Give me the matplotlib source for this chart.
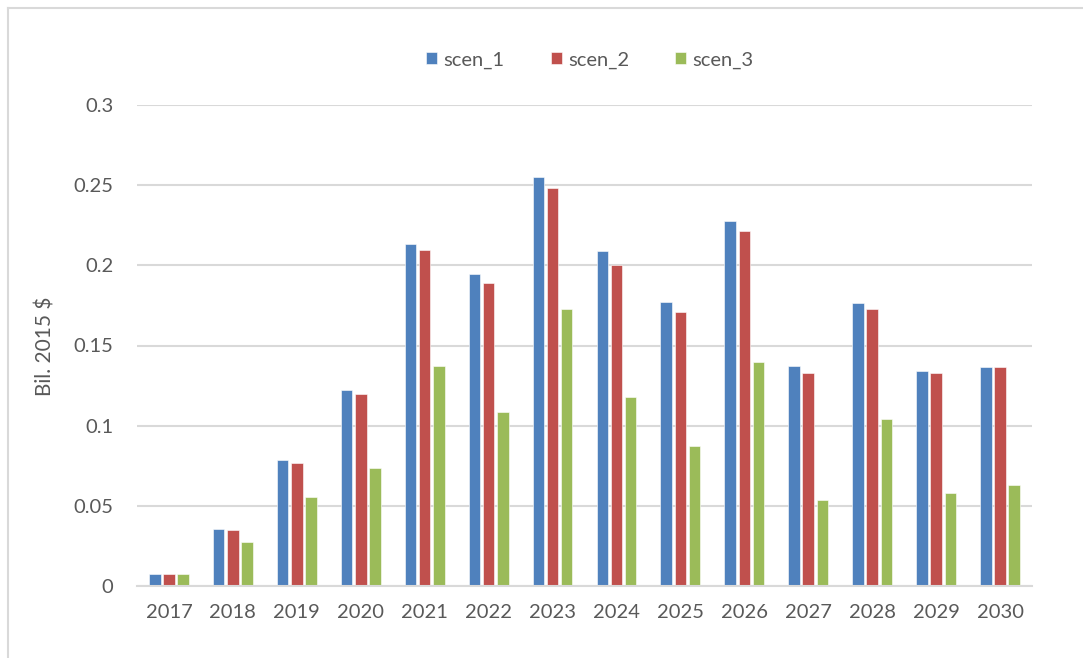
import numpy as np
import matplotlib.pyplot as plt
from matplotlib.lines import Line2D

# data
years = ['2017', '2018', '2019', '2020', '2021', '2022', '2023',
         '2024', '2025', '2026', '2027', '2028', '2029', '2030']
scen_1 = [0.0075, 0.0353, 0.0785, 0.1225, 0.2133, 0.1948, 0.2550,
          0.2087, 0.1774, 0.2278, 0.1375, 0.1767, 0.1344, 0.1369]
scen_2 = [0.0075, 0.0347, 0.0770, 0.1200, 0.2093, 0.1892, 0.2484,
          0.2004, 0.1711, 0.2214, 0.1329, 0.1728, 0.1329, 0.1369]
scen_3 = [0.0075, 0.0274, 0.0553, 0.0737, 0.1375, 0.1088, 0.1726,
          0.1176, 0.0872, 0.1400, 0.0538, 0.1040, 0.0579, 0.0627]
series = ['scen_1', 'scen_2', 'scen_3']
colors = ['#4F81BD', '#C0504D', '#9BBB59']

plt.rcParams['font.family'] = ['Lato', 'DejaVu Sans']
txt = '#595959'
grid = '#D9D9D9'

fig = plt.figure(figsize=(10.83, 6.58), dpi=100)
ax = fig.add_axes([137/1083, 1-586/658, (1032-137)/1083, (586-105)/658])

x = np.arange(len(years))
w = 0.18
step = 0.222
for i, (name, vals) in enumerate(zip(series, [scen_1, scen_2, scen_3])):
    ax.bar(x + (i-1)*step, vals, width=w, color=colors[i], label=name,
           edgecolor='white', linewidth=0.4, zorder=3)

ax.set_xlim(-0.5, len(years)-0.5)
ax.set_ylim(0, 0.3)
ax.set_yticks([0, 0.05, 0.1, 0.15, 0.2, 0.25, 0.3])
ax.set_yticklabels(['0', '0.05', '0.1', '0.15', '0.2', '0.25', '0.3'])
ax.set_xticks(x)
ax.set_xticklabels(years)
ax.tick_params(axis='both', length=0, labelsize=14.5, colors=txt)
ax.tick_params(axis='y', pad=17)
ax.tick_params(axis='x', pad=13)
ax.grid(axis='y', color=grid, linewidth=1.5, zorder=0)
for s in ['top', 'right', 'left']:
    ax.spines[s].set_visible(False)
ax.spines['bottom'].set_color(grid)
ax.spines['bottom'].set_linewidth(1.5)
ax.spines['bottom'].set_zorder(4)

fig.text(45/1083, 1-346/658, 'Bil. 2015 $', rotation=90, ha='center',
         va='center', fontsize=15, color=txt)

fig.legend(loc='center', bbox_to_anchor=(590/1083, 1-60/658), ncol=3,
           frameon=False, fontsize=14.5, handlelength=0.55, handleheight=0.55,
           handletextpad=0.3, columnspacing=2.3, labelcolor=txt)

# chart area border (top and left visible)
fig.add_artist(Line2D([8/1083, 8/1083], [0, 1-8/658], transform=fig.transFigure,
                      color=grid, linewidth=1.5))
fig.add_artist(Line2D([8/1083, 1], [1-8/658, 1-8/658], transform=fig.transFigure,
                      color=grid, linewidth=1.5))

fig.savefig('out.png', dpi=100)
